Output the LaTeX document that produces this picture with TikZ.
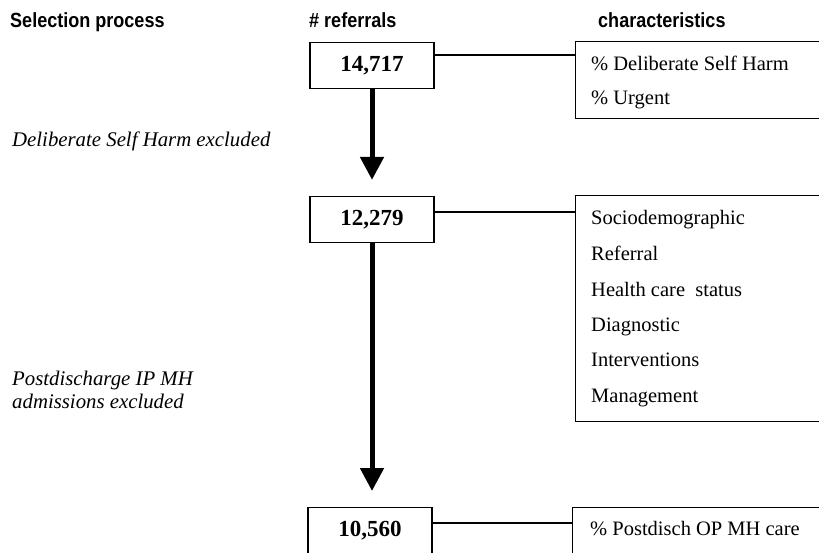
\documentclass[tikz,border=0pt]{standalone}
\usepackage{fontspec}
\setmainfont{Liberation Serif}
\newfontfamily\hdrfont{Liberation Sans}
\usetikzlibrary{arrows.meta}
\newcommand{\hdrtext}[1]{\scalebox{0.88}[1]{#1}}
\begin{document}
\begin{tikzpicture}[x=1pt,y=-1pt,
  hdr/.style={anchor=base west, inner sep=0pt, font=\hdrfont\bfseries\fontsize{20.5}{24}\selectfont},
  numbox/.style={draw, line width=1.3pt, minimum width=124pt, minimum height=46pt, inner sep=0pt, font=\bfseries\fontsize{23}{27}\selectfont},
  charbox/.style={draw, line width=1.3pt, anchor=north west, inner sep=0pt, minimum width=260pt},
  item/.style={anchor=base west, inner sep=0pt, font=\fontsize{20.5}{24}\selectfont},
  note/.style={anchor=base west, inner sep=0pt, font=\itshape\fontsize{20.8}{24}\selectfont},
  link/.style={line width=2pt},
  flow/.style={line width=5pt, -{Triangle[width=23pt,length=23pt]}}
]
\useasboundingbox (0,0) rectangle (819,552);

% headers
\node[hdr] (h1) at (10,27) {\hdrtext{Selection process}};
\node[hdr] (h2) at (309,27) {\hdrtext{\# referrals}};
\node[hdr] (h3) at (598,27) {\hdrtext{characteristics}};

% referral count boxes
\node[numbox] (n1) at (372,65.5) {14,717};
\node[numbox] (n2) at (372,219.5) {12,279};
\node[numbox, minimum height=60pt, anchor=north, text height=16pt, text depth=18pt] (n3) at (370,507) {10,560};

% characteristic boxes
\node[charbox, minimum height=77pt] (c1) at (575,41) {};
\node[charbox, minimum height=226pt] (c2) at (575,195) {};
\node[charbox, minimum height=60pt] (c3) at (572,507) {};

% characteristic items
\node[item] (t1) at (591,70) {\% Deliberate Self Harm};
\node[item] (t2) at (591,104) {\% Urgent};
\node[item] (t3) at (591,224) {Sociodemographic};
\node[item] (t4) at (591,260) {Referral};
\node[item] (t5) at (591,296) {Health care\ \ status};
\node[item] (t6) at (591,331) {Diagnostic};
\node[item] (t7) at (591,366) {Interventions};
\node[item] (t8) at (591,402) {Management};
\node[item] (t9) at (590,535) {\% Postdisch OP MH care};

% exclusion notes
\node[note] (e1) at (12,146) {Deliberate Self Harm excluded};
\node[note] (e2) at (12,385) {Postdischarge IP MH};
\node[note] (e3) at (12,408) {admissions excluded};

% connectors
\coordinate (j1) at ([yshift=-13pt]n1.north east);
\coordinate (j2) at ([yshift=-16pt]n2.north east);
\coordinate (j3) at ([yshift=-16pt]n3.north east);
\draw[link] (j1) -- (j1 -| c1.west);
\draw[link] (j2) -- (j2 -| c2.west);
\draw[link] (j3) -- (j3 -| c3.west);

% flow arrows
\draw[flow] (n1.south) -- ([yshift=16pt]n2.north);
\draw[flow] (n2.south) -- ([yshift=16pt]n3.north -| n2.south);
\end{tikzpicture}
\end{document}
